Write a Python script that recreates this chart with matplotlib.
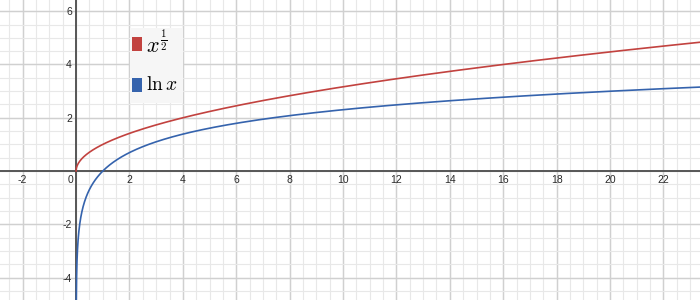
import matplotlib
matplotlib.use('Agg')
import matplotlib.pyplot as plt
import numpy as np
from matplotlib.ticker import MultipleLocator, FixedLocator

plt.rc('font', family='Liberation Sans')
plt.rc('axes', unicode_minus=False)
plt.rc('mathtext', fontset='cm')

# view window and labelled ticks
x_min, x_max = -2.85, 23.37
y_min, y_max = -4.84, 6.42
x_ticks = [-2, 2, 4, 6, 8, 10, 12, 14, 16, 18, 20, 22]
y_ticks = [-4, -2, 2, 4, 6]

# the two plotted functions
legend_labels = [r'$x^{\frac{1}{2}}$', r'$\ln x$']
colors = ['#c2423f', '#3563ad']
x = np.linspace(1e-5, x_max, 4000)
x_log = np.concatenate([np.geomspace(1e-3, 0.05, 400), x[x > 0.05]])
sqrt_vals = np.sqrt(x)
log_vals = np.log(x_log)

fig = plt.figure(figsize=(7, 3), dpi=100)
ax = fig.add_axes([0, 0, 1, 1])
ax.set_xlim(x_min, x_max)
ax.set_ylim(y_min, y_max)

ax.xaxis.set_minor_locator(MultipleLocator(0.5))
ax.yaxis.set_minor_locator(MultipleLocator(0.5))
ax.xaxis.set_major_locator(FixedLocator(x_ticks))
ax.yaxis.set_major_locator(FixedLocator(y_ticks))
ax.grid(which='minor', color='#e8e8e8', lw=0.8)
ax.grid(which='major', color='#d0d0d0', lw=0.9)
for v in np.arange(-2, 24, 2):
    ax.axvline(v, color='#d0d0d0', lw=0.9, zorder=0.5)
for v in np.arange(-4, 7, 2):
    ax.axhline(v, color='#d0d0d0', lw=0.9, zorder=0.5)
ax.set_axisbelow(True)

for s in ['top', 'right']:
    ax.spines[s].set_visible(False)
for s in ['left', 'bottom']:
    ax.spines[s].set_position('zero')
    ax.spines[s].set_color('#4a4a4a')
    ax.spines[s].set_linewidth(1.3)
ax.tick_params(which='both', length=0, labelsize=7.5, colors='#2a2a2a', pad=3)
ax.text(-0.12, -0.15, '0', ha='right', va='top', fontsize=7.5, color='#2a2a2a')

ax.plot(x, sqrt_vals, color=colors[0], lw=1.2, zorder=3)
ax.plot(x_log, log_vals, color=colors[1], lw=1.2, zorder=3)

# legend box
fig.patches.append(plt.Rectangle((130, 300 - 103), 53, 75, transform=None,
                                 facecolor='#f6f6f6', edgecolor='none', zorder=4))
for i, (lab, c) in enumerate(zip(legend_labels, colors)):
    yc = 300 - (44 + i * 41)
    fig.patches.append(plt.Rectangle((132, yc - 7), 10, 14, transform=None,
                                     facecolor=c, edgecolor='none', zorder=5))
    fig.text(146 / 700, yc / 300, lab, fontsize=14 if i else 16, va='center',
             ha='left', zorder=6)

fig.savefig('out.png', dpi=100)
